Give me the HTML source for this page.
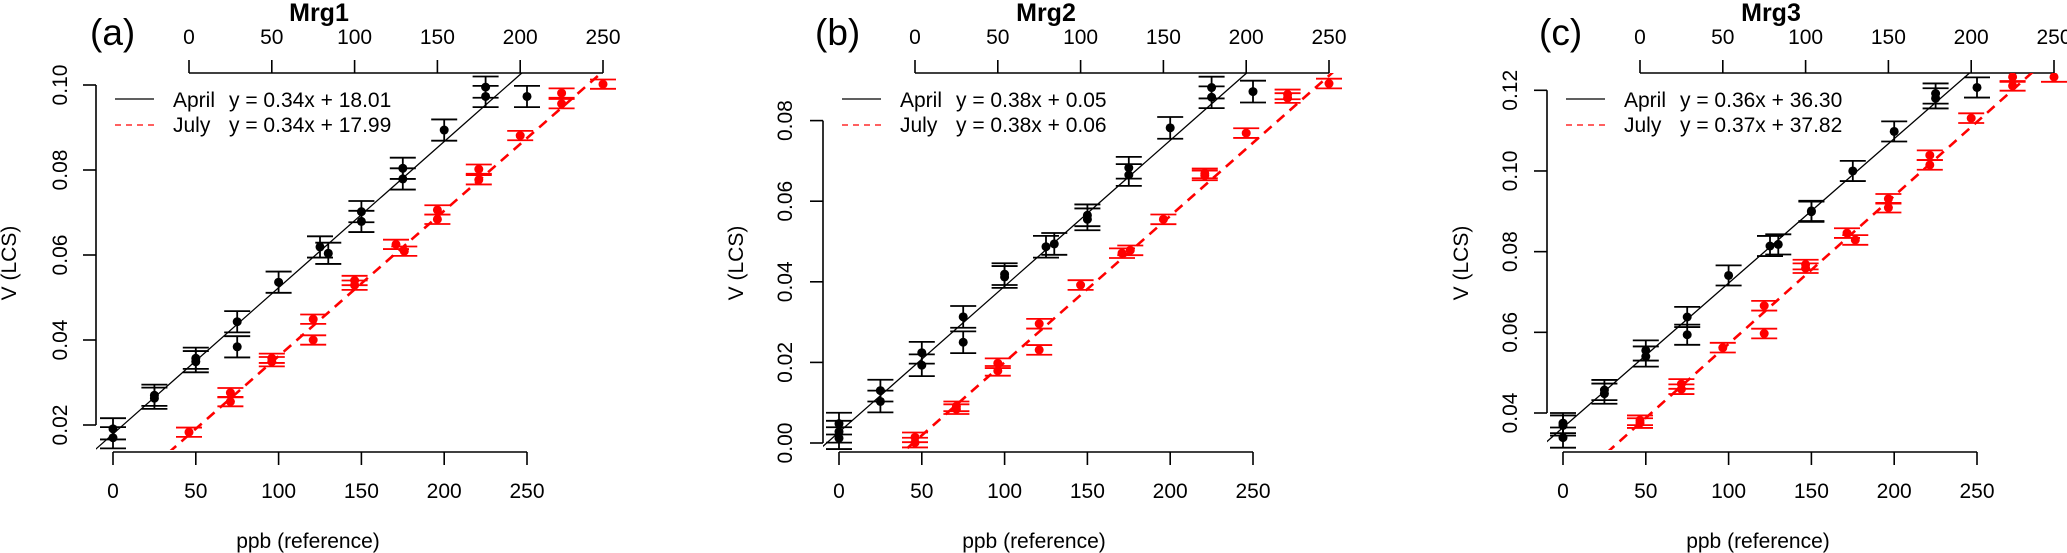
<!DOCTYPE html>
<html><head><meta charset="utf-8">
<style>
html,body{margin:0;padding:0;background:#fff;}
svg{display:block;font-family:"Liberation Sans",sans-serif;}
</style></head>
<body>
<svg id="chart" width="2067" height="553" viewBox="0 0 2067 553" xmlns="http://www.w3.org/2000/svg"></svg>
<script>
// ---- data ----
const panelLetters = ["(a)", "(b)", "(c)"];
const panelTitles = ["Mrg1", "Mrg2", "Mrg3"];
const xTickLabels = [0, 50, 100, 150, 200, 250];
const yTicksA = [0.02, 0.04, 0.06, 0.08, 0.10];
const yTicksB = [0.00, 0.02, 0.04, 0.06, 0.08];
const yTicksC = [0.04, 0.06, 0.08, 0.10, 0.12];
const legendEqAprilArr = ["y = 0.34x + 18.01", "y = 0.38x + 0.05", "y = 0.36x + 36.30"];
const legendEqJulyArr = ["y = 0.34x + 17.99", "y = 0.38x + 0.06", "y = 0.37x + 37.82"];

const aprilXA = [0,0,25,25,50,50,75,75,100,125,130,150,150,175,175,200,225,225,250];
const aprilYA = [0.0191,0.0170,0.0270,0.0263,0.0357,0.0349,0.0443,0.0384,0.0536,0.0619,0.0604,0.0702,0.0679,0.0804,0.0779,0.0894,0.0995,0.0973,0.0973];
const julyXA = [0,25,25,50,50,75,75,100,100,125,130,150,150,175,175,200,225,225,250];
const julyYA = [0.0183,0.0276,0.0255,0.0357,0.0349,0.0449,0.0400,0.0540,0.0529,0.0625,0.0609,0.0706,0.0684,0.0802,0.0777,0.0881,0.0981,0.0956,0.1002];

const aprilXB = [0,0,0,25,25,50,50,75,75,100,100,125,130,150,150,175,175,200,225,225,250];
const aprilYB = [0.0048,0.0028,0.0012,0.0130,0.0103,0.0224,0.0193,0.0313,0.0250,0.0419,0.0412,0.0487,0.0494,0.0565,0.0555,0.0683,0.0665,0.0782,0.0882,0.0858,0.0872];
const julyXB = [0,0,25,25,50,50,75,75,100,125,130,150,175,175,200,225,225,250];
const julyYB = [0.0014,0.0001,0.0091,0.0084,0.0198,0.0179,0.0296,0.0231,0.0392,0.0471,0.0478,0.0555,0.0664,0.0669,0.0769,0.0865,0.0856,0.0892];

const aprilXC = [0,0,0,25,25,50,50,75,75,100,125,130,150,150,175,200,225,225,250];
const aprilYC = [0.0375,0.0369,0.0339,0.0457,0.0448,0.0555,0.0540,0.0638,0.0594,0.0741,0.0814,0.0818,0.0899,0.0901,0.1000,0.1098,0.1192,0.1180,0.1207];
const julyXC = [0,0,25,25,50,75,75,100,100,125,130,150,150,175,175,200,225,225,250];
const julyYC = [0.0382,0.0375,0.0472,0.0459,0.0562,0.0666,0.0597,0.0768,0.0759,0.0846,0.0829,0.0931,0.0909,0.1039,0.1015,0.1131,0.1233,0.1211,0.1233];

const aprilErr = [0.0025, 0.0027, 0.0025];
const julyErr = [0.0011, 0.0012, 0.0012];
const aprilFitSlope = [0.000344, 0.000362, 0.000358];
const aprilFitInt = [0.0179, 0.0027, 0.0364];
const julyFitSlope = [0.000342, 0.000363, 0.000367];
const julyFitInt = [0.0177, 0.0004, 0.0375];

// ---- layout (pixel geometry, not data) ----
const layout = [
  {bx0:113, tx0:189, left:96, v0:0.02, y0:425, v1:0.10, y1:85, letterX:90, titleX:319, ylabX:9, ytickX:60, yTicks:yTicksA, ax:aprilXA, ay:aprilYA, jx:julyXA, jy:julyYA},
  {bx0:839, tx0:915, left:823, v0:0.00, y0:443, v1:0.08, y1:120.6, letterX:815, titleX:1046, ylabX:736, ytickX:785, yTicks:yTicksB, ax:aprilXB, ay:aprilYB, jx:julyXB, jy:julyYB},
  {bx0:1563, tx0:1640, left:1547, v0:0.04, y0:413, v1:0.12, y1:90.3, letterX:1539, titleX:1771, ylabX:1461, ytickX:1510, yTicks:yTicksC, ax:aprilXC, ay:aprilYC, jx:julyXC, jy:julyYC}
];
const PXPPB = 414/250, TOPY = 73, BOTY = 452;
const NS = "http://www.w3.org/2000/svg";
const svg = document.getElementById("chart");
function mk(tag, attrs, parent){
  const e = document.createElementNS(NS, tag);
  for (const k in attrs) e.setAttribute(k, attrs[k]);
  (parent||svg).appendChild(e);
  return e;
}
const defs = mk("defs", {});

layout.forEach((L, i) => {
  const g = mk("g", {});
  
  
  const xb = v => L.bx0 + v*PXPPB;
  const xt = v => L.tx0 + v*PXPPB;
  const yv = v => L.y0 + (v - L.v0)*(L.y1 - L.y0)/(L.v1 - L.v0);

  const cp = mk("clipPath", {id:"clip"+i}, defs);
  mk("rect", {x:L.left, y:TOPY, width:(xt(250)+20)-L.left, height:BOTY-TOPY-2}, cp);

  let t = mk("text", {x:L.letterX, y:45, "font-size":37}, g);
  t.textContent = panelLetters[i];
  
  
  t = mk("text", {x:L.titleX, y:21, "font-size":25, "font-weight":"bold", "text-anchor":"middle"}, g);
  t.textContent = panelTitles[i];
  
  

  const bax = mk("g", {stroke:"#000", "stroke-width":1.6}, g);
  
  
  mk("line", {x1:xb(0), x2:xb(250), y1:BOTY, y2:BOTY}, bax);
  xTickLabels.forEach(v => {
    mk("line", {x1:xb(v), x2:xb(v), y1:BOTY, y2:BOTY+13}, bax);
    const tl = mk("text", {x:xb(v), y:498, "font-size":21, "text-anchor":"middle", stroke:"none"}, bax);
    tl.textContent = v;
    
    
  });
  const tax = mk("g", {stroke:"#000", "stroke-width":1.6}, g);
  
  
  mk("line", {x1:xt(0), x2:xt(250), y1:TOPY, y2:TOPY}, tax);
  xTickLabels.forEach(v => {
    mk("line", {x1:xt(v), x2:xt(v), y1:TOPY, y2:TOPY-13}, tax);
    const tl = mk("text", {x:xt(v), y:44, "font-size":21, "text-anchor":"middle", stroke:"none"}, tax);
    tl.textContent = v;
    
    
  });
  const yax = mk("g", {stroke:"#000", "stroke-width":1.6}, g);
  
  
  const yt = L.yTicks;
  mk("line", {x1:L.left, x2:L.left, y1:yv(yt[0]), y2:yv(yt[yt.length-1])}, yax);
  yt.forEach(v => {
    mk("line", {x1:L.left, x2:L.left-13, y1:yv(v), y2:yv(v)}, yax);
    const tl = mk("text", {x:0, y:0, "font-size":21, "text-anchor":"middle", stroke:"none",
      transform:`translate(${L.ytickX+7},${yv(v)}) rotate(-90)`}, yax);
    tl.textContent = v.toFixed(2);
    
    
  });
  t = mk("text", {x:0, y:0, "font-size":21, "text-anchor":"middle", transform:`translate(${L.ylabX+7},263) rotate(-90)`}, g);
  t.textContent = "V (LCS)";
  
  
  t = mk("text", {x:xb(125)-12, y:548, "font-size":21, "text-anchor":"middle"}, g);
  t.textContent = "ppb (reference)";
  
  

  const pg = mk("g", {"clip-path":`url(#clip${i})`}, g);
  
  
  const fa = mk("line", {x1:xb(-20), y1:yv(aprilFitSlope[i]*-20+aprilFitInt[i]), x2:xb(300), y2:yv(aprilFitSlope[i]*300+aprilFitInt[i]), stroke:"#000", "stroke-width":1.3}, pg);
  
  
  const fj = mk("line", {x1:xt(-20), y1:yv(julyFitSlope[i]*-20+julyFitInt[i]), x2:xt(300), y2:yv(julyFitSlope[i]*300+julyFitInt[i]), stroke:"#ff0000", "stroke-width":2.6, "stroke-dasharray":"10,7"}, pg);
  
  

  function series(xs, ys, err, xf, color, name){
    xs.forEach((xv, k) => {
      const cx = xf(xv), cy = yv(ys[k]);
      const hi = yv(ys[k]+err), lo = yv(ys[k]-err);
      const eg = mk("g", {stroke:color, "stroke-width":1.8}, pg);
      
      
      mk("line", {x1:cx, x2:cx, y1:hi, y2:lo}, eg);
      mk("line", {x1:cx-13, x2:cx+13, y1:hi, y2:hi}, eg);
      mk("line", {x1:cx-13, x2:cx+13, y1:lo, y2:lo}, eg);
      const c = mk("ellipse", {cx:cx, cy:cy, rx:4.5, ry:4.5, fill:color}, pg);
      
      
    });
  }
  series(L.ax, L.ay, aprilErr[i], xb, "#000", "april");
  series(L.jx, L.jy, julyErr[i], xt, "#ff0000", "july");

  const lg = mk("g", {}, g);
  
  
  mk("line", {x1:L.left+19, x2:L.left+58, y1:99, y2:99, stroke:"#000", "stroke-width":1.3}, lg);
  mk("line", {x1:L.left+19, x2:L.left+58, y1:125, y2:125, stroke:"#ff0000", "stroke-width":1.3, "stroke-dasharray":"6,5"}, lg);
  [["April", legendEqAprilArr[i], 107], ["July", legendEqJulyArr[i], 132]].forEach(r => {
    let a = mk("text", {x:L.left+77, y:r[2], "font-size":21}, lg);
    a.textContent = r[0];
    
    
    a = mk("text", {x:L.left+133, y:r[2], "font-size":21}, lg);
    a.textContent = r[1];
    
    
  });
});
</script>
</body></html>
